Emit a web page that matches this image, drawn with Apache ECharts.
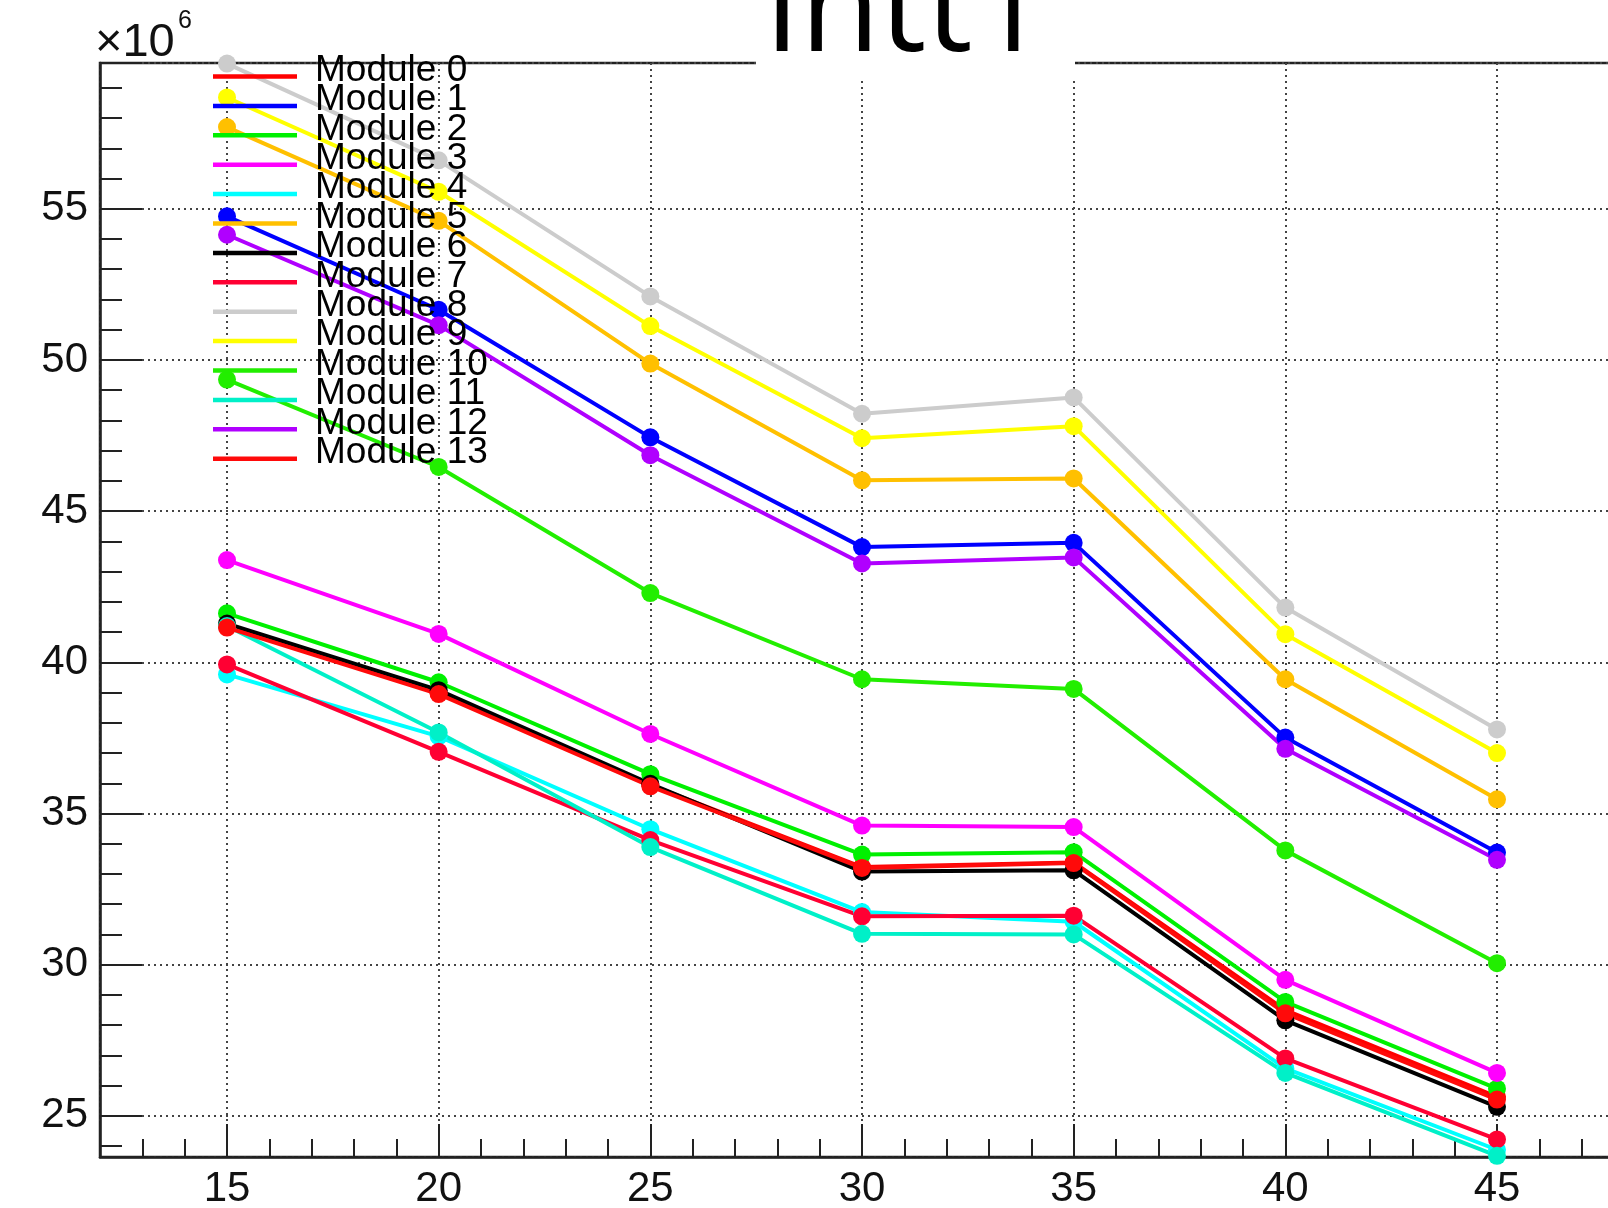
<!DOCTYPE html>
<html>
<head>
<meta charset="utf-8">
<script src="https://cdn.jsdelivr.net/npm/echarts@6/dist/echarts.min.js"></script>
<style>
html,body{margin:0;padding:0;background:#fff;}
#chart{width:1608px;height:1208px;}
</style>
</head>
<body>
<div id="chart"></div>
<script>
// ---- data ----
const xValues = [15, 20, 25, 30, 35, 40, 45];
const moduleNames = ['Module 0','Module 1','Module 2','Module 3','Module 4','Module 5','Module 6',
                     'Module 7','Module 8','Module 9','Module 10','Module 11','Module 12','Module 13'];
const moduleColors = ['#ff0000','#0000ff','#00f000','#ff00ff','#00ffff','#ffc000','#000000',
                      '#ff0033','#cccccc','#ffff00','#22ee00','#00f0c8','#b000ff','#ff0a0a'];

const module0  = [41.20, 38.98, 35.95, 33.23, 33.38, 28.50, 25.63];
const module1  = [54.75, 51.66, 47.44, 43.81, 43.95, 37.51, 33.71];
const module2  = [41.62, 39.34, 36.30, 33.64, 33.72, 28.77, 25.90];
const module3  = [43.38, 40.94, 37.63, 34.60, 34.55, 29.50, 26.42];
const module4  = [39.60, 37.55, 34.48, 31.74, 31.42, 26.57, 23.88];
const module5  = [57.70, 54.60, 49.88, 46.02, 46.08, 39.44, 35.47];
const module6  = [41.28, 39.08, 35.98, 33.08, 33.12, 28.16, 25.30];
const module7  = [39.93, 37.04, 34.12, 31.60, 31.62, 26.90, 24.22];
const module8  = [59.80, 56.60, 52.10, 48.22, 48.76, 41.81, 37.78];
const module9  = [58.68, 55.56, 51.12, 47.41, 47.81, 40.93, 37.00];
const module10 = [49.35, 46.46, 42.29, 39.44, 39.12, 33.78, 30.05];
const module11 = [41.20, 37.68, 33.89, 31.02, 31.00, 26.42, 23.68];
const module12 = [54.14, 51.15, 46.85, 43.27, 43.47, 37.14, 33.47];
const module13 = [41.15, 38.95, 35.90, 33.20, 33.36, 28.39, 25.54];

const allModules = [module0, module1, module2, module3, module4, module5, module6,
                    module7, module8, module9, module10, module11, module12, module13];

const xRange = [12, 48];
const yRange = [23.64, 59.82];

const titleText = 'Intt1';
const exponentBase = '\u00d710';
const exponentPower = '6';

// ---- chart ----
const chart = echarts.init(document.getElementById('chart'), null, {renderer: 'canvas'});

const series = allModules.map((vals, i) => ({
  name: moduleNames[i],
  type: 'line',
  data: xValues.map((x, j) => [x, vals[j]]),
  symbol: 'circle',
  symbolSize: 18,
  showSymbol: true,
  showAllSymbol: true,
  clip: false,
  lineStyle: {width: 4, color: moduleColors[i]},
  itemStyle: {color: moduleColors[i]},
  emphasis: {disabled: true},
  silent: true,
  animation: false
}));

const axisColor = '#222';
const gridLineStyle = {type: [2, 4], color: '#444', width: 2};

chart.setOption({
  animation: false,
  backgroundColor: '#ffffff',
  grid: {
    left: 100, top: 63, right: -16, bottom: 51,
    show: true, borderColor: axisColor, borderWidth: 2.5,
    containLabel: false, outerBoundsMode: 'none'
  },
  xAxis: {
    type: 'value',
    min: xRange[0], max: xRange[1],
    splitNumber: 7,
    axisLine: {show: true, lineStyle: {color: axisColor, width: 2.5}},
    axisTick: {show: true, inside: true, length: 33, lineStyle: {color: axisColor, width: 2}},
    minorTick: {show: true, splitNumber: 5, length: 18, lineStyle: {color: axisColor, width: 2}},
    splitLine: {show: true, lineStyle: gridLineStyle},
    axisLabel: {
      show: true, showMinLabel: false, showMaxLabel: false,
      margin: 11, fontSize: 42, color: '#111', fontFamily: '"Liberation Sans", Arial, sans-serif'
    }
  },
  yAxis: {
    type: 'value',
    min: yRange[0], max: yRange[1],
    splitNumber: 7,
    axisLine: {show: true, lineStyle: {color: axisColor, width: 2.5}},
    axisTick: {show: true, inside: true, length: 42, lineStyle: {color: axisColor, width: 2}},
    minorTick: {show: true, splitNumber: 5, length: 22, lineStyle: {color: axisColor, width: 2}},
    splitLine: {show: true, lineStyle: gridLineStyle},
    axisLabel: {
      show: true, showMinLabel: false, showMaxLabel: false,
      margin: 12, fontSize: 42, color: '#111', fontFamily: '"Liberation Sans", Arial, sans-serif'
    }
  },
  legend: {
    show: true,
    orient: 'vertical',
    left: 213, top: 52,
    padding: 0,
    itemWidth: 84, itemHeight: 4.5,
    itemGap: -7.6,
    icon: 'rect',
    selectedMode: false,
    data: moduleNames,
    formatter: name => '{t|' + name + '}',
    textStyle: {
      color: '#000',
      rich: {
        t: {
          fontSize: 37, color: '#000',
          fontFamily: '"Liberation Sans", Arial, sans-serif',
          padding: [0, 0, 12, 13]
        }
      }
    }
  },
  graphic: [
    {
      type: 'rect', z: 100, silent: true,
      shape: {x: 756, y: 0, width: 319, height: 79},
      style: {fill: '#ffffff'}
    },
    {
      type: 'text', z: 101, silent: true,
      x: 764, y: 14,
      style: {
        text: titleText, fill: '#000',
        font: '130px "Open Sans"',
        align: 'left', verticalAlign: 'middle'
      }
    },
    {
      type: 'text', z: 101, silent: true,
      x: 95, y: 43,
      style: {
        text: exponentBase, fill: '#111',
        font: '47px "Liberation Sans"',
        align: 'left', verticalAlign: 'middle'
      }
    },
    {
      type: 'text', z: 101, silent: true,
      x: 178, y: 21,
      style: {
        text: exponentPower, fill: '#111',
        font: '25px "Liberation Sans"',
        align: 'left', verticalAlign: 'middle'
      }
    }
  ],
  series: series
});
</script>
</body>
</html>
